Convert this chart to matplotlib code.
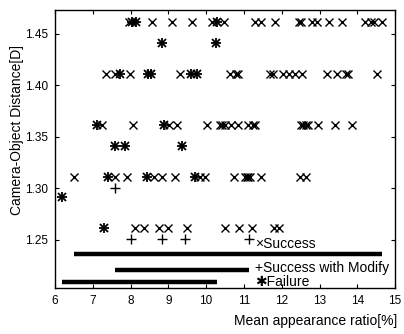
import matplotlib.pyplot as plt
import matplotlib
matplotlib.use("Agg")

plt.rcParams['font.family'] = ['Liberation Sans', 'DejaVu Sans']

# distance rows [D] and mean appearance ratios [%] on each row
success_dist = [1.461, 1.411, 1.361, 1.311, 1.261]
success_ratio = [
    [7.95, 8.57, 9.10, 9.63, 10.16, 10.47, 11.30, 11.44, 11.81, 12.46, 12.52,
     12.80, 12.94, 13.24, 13.60, 14.21, 14.37, 14.43, 14.66],
    [7.34, 7.60, 7.98, 9.32, 10.64, 10.80, 10.85, 11.70, 11.76, 12.04, 12.19,
     12.34, 12.54, 13.20, 13.47, 13.70, 13.76, 14.52],
    [7.25, 8.07, 9.01, 9.23, 10.03, 10.36, 10.42, 10.50, 10.65, 10.84, 11.12,
     11.24, 11.29, 12.52, 12.57, 12.64, 12.69, 12.96, 13.40, 13.86],
    [6.50, 7.60, 7.90, 8.63, 8.84, 9.17, 9.84, 9.98, 10.73, 11.02, 11.07,
     11.11, 11.15, 11.44, 12.49, 12.64],
    [8.13, 8.35, 8.75, 8.99, 9.50, 10.51, 10.86, 11.22, 11.79, 11.92],
]

modify_dist = [1.300, 1.251]
modify_ratio = [
    [7.58],
    [8.02, 8.84, 9.45, 11.13],
]

failure_dist = [1.461, 1.441, 1.411, 1.361, 1.341, 1.311, 1.291, 1.261]
failure_ratio = [
    [8.05, 8.15, 10.29],
    [8.82, 10.25],
    [7.72, 8.45, 8.55, 9.59, 9.76],
    [7.10, 8.88],
    [7.60, 7.85, 9.35],
    [7.40, 8.44, 9.70],
    [6.19],
    [7.29],
]

labels = ["\u00d7Success", "+Success with Modify", "\u2731Failure"]
range_y = [1.236, 1.2205, 1.209]   # height of the range bar of each class

fig = plt.figure(figsize=(4.04, 3.34), dpi=100)
ax = fig.add_axes([0.136, 0.138, 0.842, 0.832])

for d, xs in zip(success_dist, success_ratio):
    ax.plot(xs, [d] * len(xs), 'x', color='k', ms=5.5, mew=1.0)
for d, xs in zip(modify_dist, modify_ratio):
    ax.plot(xs, [d] * len(xs), '+', color='k', ms=6.5, mew=1.0)
# matlab style '*' = '+' on top of 'x'
for d, xs in zip(failure_dist, failure_ratio):
    ax.plot(xs, [d] * len(xs), 'x', color='k', ms=5.5, mew=1.3)
    ax.plot(xs, [d] * len(xs), '+', color='k', ms=7, mew=1.3)

# range of each class as a thick bar
for ratios, y in zip([success_ratio, modify_ratio, failure_ratio], range_y):
    flat = [v for row in ratios for v in row]
    ax.plot([min(flat), max(flat)], [y, y], color='k', lw=3.2, solid_capstyle='butt')

# class labels next to the bars
label_y = [0.158, 0.072, 0.023]
for lab, ly in zip(labels, label_y):
    ax.text(0.588, ly, lab, transform=ax.transAxes, fontsize=10,
            ha='left', va='center')

ax.set_xlim(6, 15)
ax.set_ylim(1.203, 1.473)
ax.set_xticks(range(6, 16))
ax.set_yticks([1.25, 1.30, 1.35, 1.40, 1.45])
ax.set_yticklabels(["1.25", "1.30", "1.35", "1.40", "1.45"])
ax.tick_params(direction='in', top=True, right=True, length=3, width=0.8,
               labelsize=8.5, pad=5)
for s in ax.spines.values():
    s.set_linewidth(1.0)

ax.set_xlabel("Mean appearance ratio[%]", fontsize=10, ha='right')
ax.xaxis.set_label_coords(1.005, -0.095)
ax.set_ylabel("Camera-Object Distance[D]", fontsize=10)
ax.yaxis.set_label_coords(-0.09, 0.57)

fig.savefig("out.png", dpi=100)
